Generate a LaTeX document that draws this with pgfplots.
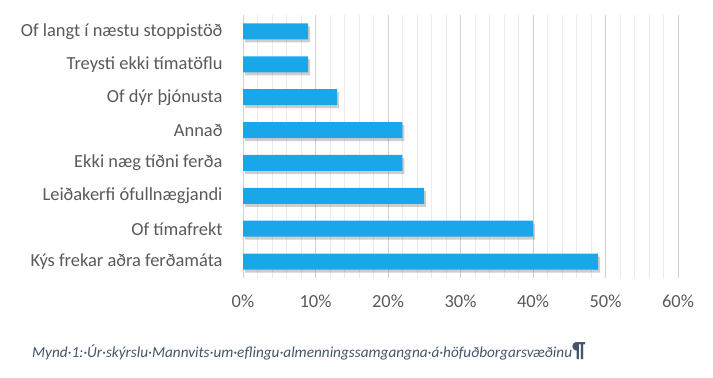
\documentclass[border=0pt]{standalone}
\usepackage{fontspec}
\setmainfont{Carlito}
\usepackage{pgfplots}
\pgfplotsset{compat=1.18}
\definecolor{barblue}{HTML}{19A7EA}
\definecolor{lblgray}{HTML}{595959}
\definecolor{capcol}{HTML}{44546A}
\begin{document}
\begin{tikzpicture}
\path[use as bounding box] (0,0) rectangle (713bp,378bp);
\begin{axis}[
  at={(243bp,100bp)}, anchor=south west,
  scale only axis, width=435bp, height=263bp,
  xmin=0, xmax=60, ymin=-0.5, ymax=7.5,
  axis line style={draw=none},
  xtick={0,10,...,60}, minor xtick={2,4,...,58},
  xmajorgrids, xminorgrids,
  major grid style={draw=black!18, line width=0.8pt},
  minor grid style={draw=black!8, line width=0.6pt},
  major tick length=0pt, minor tick length=0pt,
  ytick={0,...,7},
  yticklabels={Kýs frekar aðra ferðamáta, Of tímafrekt, Leiðakerfi ófullnægjandi, Ekki næg tíðni ferða, Annað, Of dýr þjónusta, Treysti ekki tímatöflu, Of langt í næstu stoppistöð},
  yticklabel style={font=\fontsize{18.5}{22}\selectfont, text=lblgray, xshift=-17bp},
  xticklabel={\pgfmathprintnumber{\tick}\%},
  xticklabel style={font=\fontsize{18.5}{22}\selectfont, text=lblgray, yshift=-13bp},
  /pgf/number format/assume math mode=true,
  clip=false,
]
\addplot[xbar, bar width=16bp, draw=none, fill=black!55, opacity=0.35, xshift=2bp, yshift=-3bp]
  coordinates {(49,0) (40,1) (25,2) (22,3) (22,4) (13,5) (9,6) (9,7)};
\addplot[xbar, bar width=16bp, draw=none, fill=barblue]
  coordinates {(49,0) (40,1) (25,2) (22,3) (22,4) (13,5) (9,6) (9,7)};
\end{axis}
\node[anchor=west, inner sep=0pt, text=capcol, font=\itshape\fontsize{15.3}{18}\selectfont] at (32bp,27bp) {Mynd·1:·Úr·skýrslu·Mannvits·um·eflingu·almenningssamgangna·á·höfuðborgarsvæðinu{\upshape\bfseries\fontsize{22}{24}\selectfont ¶}};
\end{tikzpicture}
\end{document}
